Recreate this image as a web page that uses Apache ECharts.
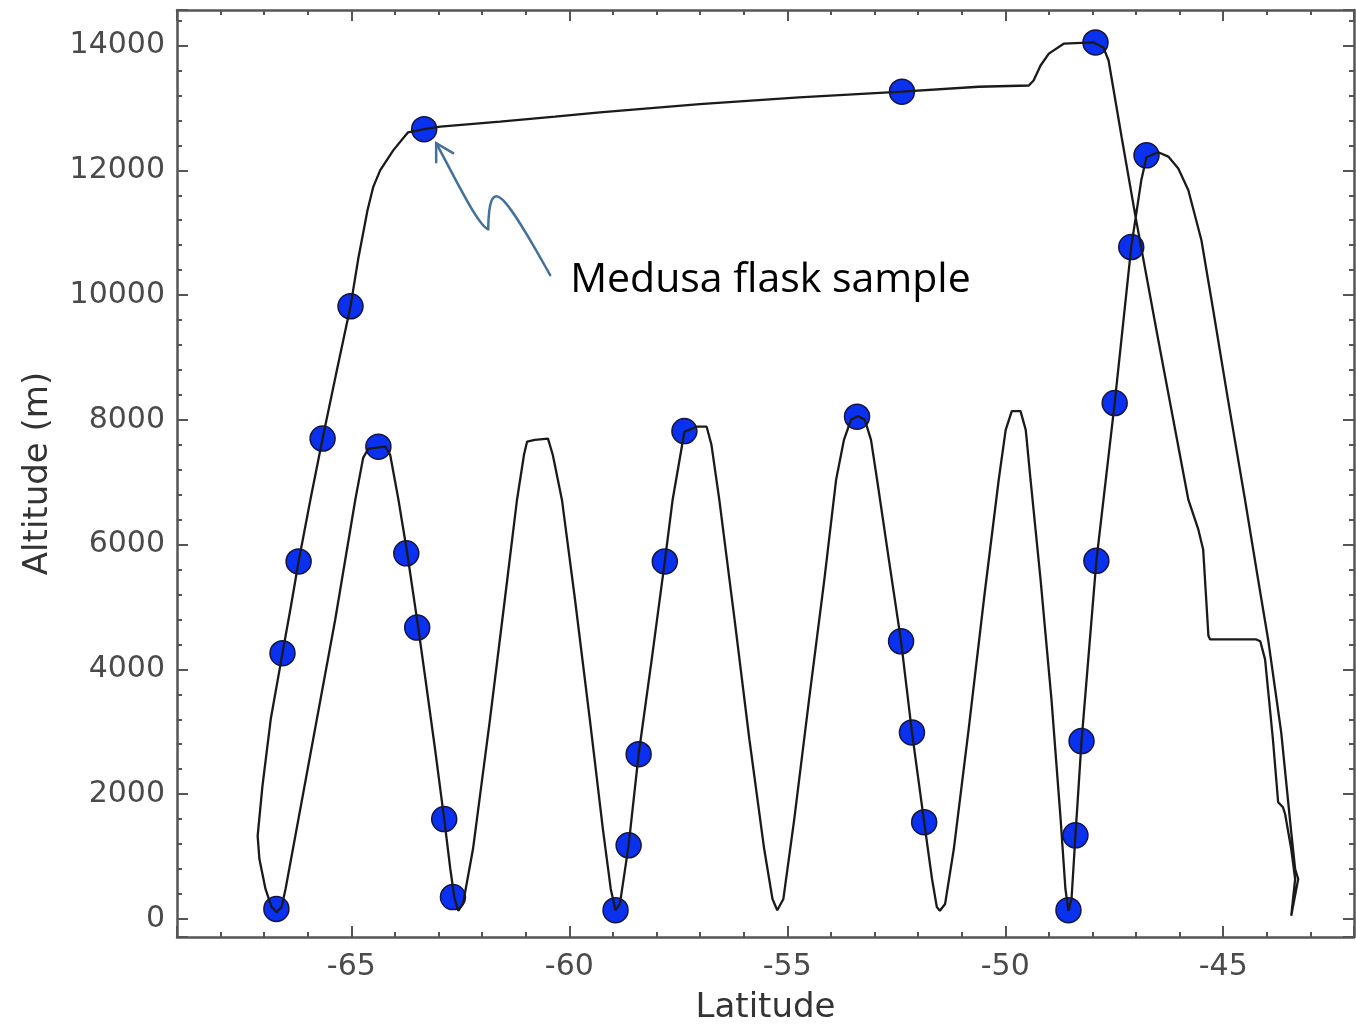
<!DOCTYPE html>
<html lang="en">
<head>
    <meta charset="UTF-8">
    <title>Altitude vs Latitude</title>
    <style>
        html, body { margin: 0; padding: 0; background: #fff; }
        #main { width: 1356px; height: 1030px; }
    </style>
    <script src="https://cdn.jsdelivr.net/npm/echarts@6/dist/echarts.min.js"></script>
</head>
<body>
<div id="main"></div>
<script>
// flight track (latitude, altitude in m), in flight order
var trackLat = [-43.44, -43.35, -43.44, -43.58, -43.63, -43.74, -43.86, -44.04, -44.15, -44.24,
    -45.30, -45.34, -45.39, -45.46, -45.57, -45.80, -46.49, -47.01, -47.33, -47.63,
    -47.75, -47.97, -48.66, -49.00, -49.19, -49.35, -49.46, -50.61, -52.37, -54.73,
    -57.01, -59.30, -60.33, -61.59, -62.96, -63.33, -63.70, -64.04, -64.34, -64.50,
    -64.63, -64.84, -65.02, -65.34, -65.66, -65.94, -66.21, -66.40, -66.58, -66.85,
    -67.04, -67.15, -67.11, -66.97, -66.83, -66.72, -66.60, -66.51, -65.37, -64.91,
    -64.73, -64.61, -64.22, -64.11, -63.92, -63.72, -63.47, -63.31, -63.08, -62.87,
    -62.73, -62.64, -62.55, -62.44, -62.21, -61.82, -61.48, -61.20, -61.04, -60.97,
    -60.79, -60.49, -60.38, -60.17, -59.87, -59.53, -59.23, -59.05, -58.94, -58.84,
    -58.64, -58.41, -58.11, -57.81, -57.63, -57.36, -57.08, -56.85, -56.74, -56.56,
    -56.21, -55.87, -55.53, -55.34, -55.23, -55.09, -54.84, -54.50, -54.15, -53.88,
    -53.70, -53.54, -53.38, -53.22, -53.08, -52.94, -52.67, -52.39, -52.14, -51.86,
    -51.68, -51.57, -51.50, -51.38, -51.18, -50.84, -50.49, -50.15, -49.99, -49.85,
    -49.65, -49.53, -49.42, -49.19, -48.94, -48.73, -48.62, -48.55, -48.48, -48.39,
    -48.25, -47.91, -47.49, -47.11, -46.88, -46.76, -46.49, -46.26, -46.03, -45.80,
    -45.50, -45.23, -44.89, -44.50, -44.20, -43.97, -43.67, -43.44, -43.35, -43.28,
    -43.44];
var trackAlt = [50, 640, 1120, 1680, 1790, 1870, 2880, 4160, 4450, 4480,
    4480, 4540, 5120, 5920, 6240, 6720, 9280, 11250, 12530, 13760,
    13970, 14050, 14030, 13870, 13680, 13440, 13360, 13340, 13260, 13170,
    13060, 12930, 12860, 12780, 12700, 12660, 12610, 12320, 12000, 11730,
    11360, 10590, 9820, 8770, 7700, 6720, 5730, 4960, 4260, 3200,
    2130, 1330, 960, 480, 190, 110, 190, 480, 4800, 6720,
    7390, 7540, 7570, 7440, 6720, 5870, 4690, 3890, 2720, 1600,
    800, 350, 130, 240, 1120, 3200, 5120, 6720, 7440, 7650,
    7680, 7700, 7440, 6720, 5120, 3200, 1440, 480, 140, 240,
    1180, 2640, 4160, 5730, 6720, 7810, 7890, 7890, 7600, 6720,
    4800, 2880, 1120, 320, 140, 320, 1600, 3520, 5440, 7040,
    7680, 8000, 8060, 8000, 7680, 7040, 5760, 4450, 2990, 1550,
    640, 190, 130, 240, 1120, 3040, 5120, 7040, 7840, 8140,
    8140, 7840, 7040, 5440, 3520, 1600, 480, 130, 320, 1340,
    2850, 5740, 8270, 10770, 11840, 12210, 12290, 12220, 12030, 11680,
    10880, 9760, 8320, 6720, 5440, 4480, 2990, 1390, 800, 640,
    50];

// Medusa flask samples
var sampleLat = [-66.72, -66.58, -66.21, -65.66, -65.02, -63.33, -64.38, -63.74, -63.49, -62.87,
    -62.67, -58.94, -58.64, -58.41, -57.81, -57.36, -53.40, -52.37, -52.39, -52.14,
    -51.86, -48.55, -48.39, -48.25, -47.91, -47.49, -47.11, -46.76, -47.93];
var sampleAlt = [160, 4260, 5730, 7700, 9820, 12660, 7570, 5860, 4670, 1600,
    350, 140, 1180, 2640, 5730, 7820, 8050, 13260, 4450, 2990,
    1550, 140, 1340, 2850, 5740, 8270, 10770, 12240, 14050];

var latRange = [-69, -42];
var altRange = [-290, 14570];
var noteText = 'Medusa flask sample';
var noteSample = 5;   // index of the sample the arrow points to

var frameColor = '#555';
var labelColor = '#4a4a4a';

function frameAxis(pos, range, split, extra) {
    var ax = {
        type: 'value',
        position: pos,
        min: range[0],
        max: range[1],
        splitNumber: split,
        axisLine: { show: true, onZero: false, lineStyle: { color: frameColor, width: 2.5 } },
        axisTick: { show: true, inside: true, length: 11, lineStyle: { color: frameColor, width: 2 } },
        minorTick: { show: true, splitNumber: 5, length: 5, lineStyle: { color: frameColor, width: 2 } },
        splitLine: { show: false },
        minorSplitLine: { show: false },
        axisLabel: { show: false }
    };
    for (var k in extra) ax[k] = extra[k];
    return ax;
}

var chart = echarts.init(document.getElementById('main'));

var option = {
    animation: false,
    backgroundColor: '#fff',
    grid: { left: 177, right: 2, top: 10, bottom: 92 },
    xAxis: [
        frameAxis('bottom', latRange, 5, {
            name: 'Latitude',
            nameLocation: 'middle',
            nameGap: 54,
            nameTextStyle: { fontFamily: 'DejaVu Sans', fontSize: 34, color: '#333' },
            axisLabel: {
                show: true, margin: 15, showMinLabel: false, showMaxLabel: false,
                fontFamily: 'DejaVu Sans', fontSize: 30, color: labelColor,
                formatter: function (v) { return String(v); }
            }
        }),
        frameAxis('top', latRange, 5, {})
    ],
    yAxis: [
        frameAxis('left', altRange, 7, {
            name: 'Altitude (m)',
            nameLocation: 'middle',
            nameGap: 122,
            nameTextStyle: { fontFamily: 'DejaVu Sans', fontSize: 34, color: '#333' },
            axisLabel: {
                show: true, margin: 12, showMinLabel: false, showMaxLabel: false,
                fontFamily: 'DejaVu Sans', fontSize: 30, color: labelColor,
                formatter: function (v) { return String(v); }
            }
        }),
        frameAxis('right', altRange, 7, {})
    ],
    series: [
        {
            type: 'scatter',
            data: sampleLat.map(function (v, i) { return [v, sampleAlt[i]]; }),
            symbol: 'circle',
            symbolSize: 25,
            itemStyle: { color: '#0a30f0', borderColor: '#151540', borderWidth: 1.5, opacity: 1 },
            z: 2
        },
        {
            type: 'line',
            data: trackLat.map(function (v, i) { return [v, trackAlt[i]]; }),
            showSymbol: false,
            smooth: false,
            lineStyle: { color: '#1a1a1a', width: 2.3 },
            z: 3
        }
    ]
};
chart.setOption(option);

// arrow and label pointing at one sample
var p = chart.convertToPixel({ gridIndex: 0 }, [sampleLat[noteSample], sampleAlt[noteSample]]);
function at(dx, dy) { return [p[0] + dx, p[1] + dy]; }
var tip = at(12, 14), b1e = at(64, 100), b1c1 = at(31, 49), b1c2 = at(54, 97);
var b2c1 = at(65, 44), b2c2 = at(78, 60), b2e = at(126, 146);
var arrowStyle = { stroke: '#41719c', lineWidth: 2.5, fill: null, lineCap: 'round' };
chart.setOption({
    graphic: [
        { type: 'bezierCurve', shape: { x1: tip[0], y1: tip[1], cpx1: b1c1[0], cpy1: b1c1[1], cpx2: b1c2[0], cpy2: b1c2[1], x2: b1e[0], y2: b1e[1] }, style: arrowStyle, z: 10 },
        { type: 'bezierCurve', shape: { x1: b1e[0], y1: b1e[1], cpx1: b2c1[0], cpy1: b2c1[1], cpx2: b2c2[0], cpy2: b2c2[1], x2: b2e[0], y2: b2e[1] }, style: arrowStyle, z: 10 },
        { type: 'polyline', shape: { points: [at(12, 33), tip, at(29, 24)] }, style: arrowStyle, z: 10 },
        {
            type: 'text', x: p[0] + 146, y: p[1] + 151, z: 10,
            style: { text: noteText, font: '41px "Open Sans"', fill: '#000', verticalAlign: 'middle', align: 'left' }
        }
    ]
});
</script>
</body>
</html>
